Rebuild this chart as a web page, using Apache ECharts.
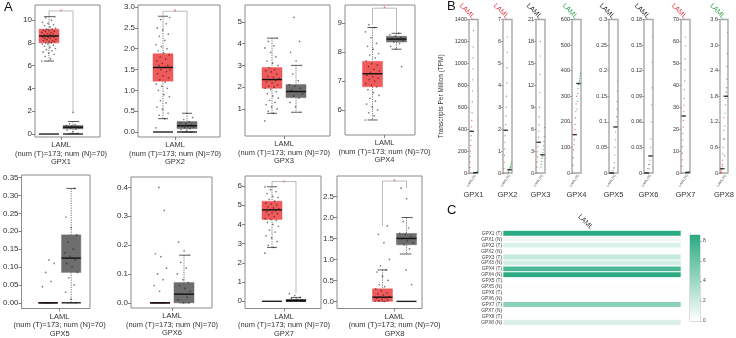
<!DOCTYPE html>
<html><head><meta charset="utf-8">
<script src="https://cdn.jsdelivr.net/npm/echarts@6/dist/echarts.min.js"></script>
<style>html,body{margin:0;padding:0;background:#fff}#c{width:736px;height:338px}</style>
</head><body><div id="c"></div>
<script>
// ---------------- DATA ----------------
const genes = ['GPX1','GPX2','GPX3','GPX4','GPX5','GPX6','GPX7','GPX8'];
const cancer = 'LAML';
const numText = '(num (T)=173; num (N)=70)';

// Panel A: box statistics, log2(TPM+1): [min, Q1, median, Q3, max]
const boxTumor = [
  [6.4,8.0,8.6,9.2,10.3],[0.32,1.22,1.55,1.88,2.78],[0.8,1.95,2.35,2.9,4.25],[5.65,6.8,7.25,7.68,8.85],
  [0,0,0,0,0],[0,0,0,0,0],[2.8,4.25,4.75,5.2,5.95],[0,0,0.1,0.3,0.75]];
const boxNormal = [
  [0.05,0.45,0.6,0.75,1.1],[0,0.08,0.15,0.25,0.45],[0.85,1.52,1.8,2.12,3.0],[8.1,8.35,8.45,8.55,8.65],
  [0,0.085,0.125,0.19,0.32],[0,0,0.03,0.07,0.165],[0,0.02,0.05,0.1,0.2],[1.13,1.35,1.5,1.62,2.0]];
// flat boxes at zero drawn under groups (1 = tumor, 2 = normal)
const zeroBoxes = [[1,2],[1,2],[],[],[1,2],[1],[1,2],[2]];
// Panel A: jittered points (sample)
const ptsTumor = [
  [6.4,6.6,6.8,7.0,7.1,7.2,7.3,7.4,7.5,7.6,7.7,7.8,7.9,7.9,8.0,8.0,8.1,8.1,8.2,8.2,8.3,8.3,8.4,8.4,8.5,8.5,8.5,8.6,8.6,8.6,8.7,8.7,8.8,8.8,8.9,8.9,9.0,9.0,9.1,9.1,9.2,9.2,9.3,9.4,9.5,9.6,9.7,9.8,10.0,10.2,10.3],
  [0.1,0.32,0.4,0.45,0.55,0.6,0.7,0.75,0.85,0.9,1.0,1.05,1.1,1.15,1.2,1.25,1.3,1.35,1.4,1.45,1.5,1.5,1.55,1.6,1.6,1.65,1.7,1.75,1.8,1.85,1.9,1.95,2.0,2.05,2.1,2.2,2.3,2.35,2.45,2.5,2.6,2.7,2.75],
  [0.45,0.8,0.9,1.0,1.1,1.2,1.3,1.4,1.5,1.6,1.7,1.8,1.9,1.95,2.0,2.05,2.1,2.2,2.25,2.3,2.35,2.4,2.45,2.5,2.6,2.7,2.75,2.8,2.9,3.0,3.1,3.2,3.4,3.6,3.8,3.9,4.1,4.25],
  [5.65,5.8,5.9,6.0,6.1,6.2,6.3,6.4,6.5,6.6,6.7,6.8,6.85,6.9,7.0,7.05,7.1,7.15,7.2,7.25,7.3,7.35,7.4,7.5,7.55,7.6,7.7,7.8,7.9,7.95,8.1,8.2,8.3,8.5,8.7,8.85,8.95],
  [0,0,0,0,0,0.045,0.06,0.085,0.11,0.12],
  [0,0,0,0,0.04,0.06,0.08,0.1,0.12,0.16,0.17,0.32,0.4],
  [2.5,2.8,2.9,3.1,3.3,3.4,3.6,3.7,3.9,4.0,4.1,4.2,4.25,4.3,4.4,4.5,4.55,4.6,4.65,4.7,4.75,4.8,4.85,4.9,5.0,5.05,5.1,5.2,5.3,5.4,5.45,5.6,5.7,5.8,5.95],
  [0,0,0.02,0.03,0.05,0.07,0.08,0.1,0.12,0.15,0.18,0.2,0.25,0.3,0.35,0.4,0.5,0.6,0.7,0.75,0.85,1.0,1.4,1.6,1.8]];
const ptsNormal = [
  [0.05,0.2,0.35,0.45,0.5,0.55,0.6,0.6,0.65,0.7,0.75,0.8,0.9,1.1,1.9],
  [0.0,0.03,0.06,0.08,0.1,0.12,0.14,0.15,0.17,0.2,0.22,0.25,0.3,0.35,0.45],
  [0.85,1.1,1.3,1.5,1.6,1.7,1.8,1.85,1.95,2.05,2.12,2.3,2.6,3.0,3.2,3.6,4.1,5.2],
  [7.5,8.1,8.2,8.3,8.35,8.4,8.45,8.45,8.5,8.55,8.6,8.65],
  [0,0.01,0.03,0.05,0.07,0.085,0.1,0.11,0.12,0.13,0.14,0.15,0.17,0.19,0.21,0.24,0.32],
  [0,0,0.01,0.02,0.03,0.04,0.05,0.06,0.07,0.08,0.1,0.12,0.14,0.165,0.18,0.21],
  [0,0.02,0.03,0.05,0.06,0.08,0.1,0.15,0.2,0.3,0.4],
  [0.4,0.75,1.13,1.25,1.35,1.4,1.45,1.5,1.55,1.6,1.62,1.75,1.9,2.0,2.45,2.7]];
// significance bracket height (null = not significant)
const sigTop = [10.8, 2.9, null, 9.52, null, null, 6.22, 2.87];
// Panel A tick values
const ticksA = [[0,2,4,6,8,10],[0,0.5,1,1.5,2,2.5,3],[1,2,3,4,5],[6,7,8,9],
  [0,0.05,0.1,0.15,0.2,0.25,0.3,0.35],[0,0.1,0.2,0.3,0.4],[0,1,2,3,4,5,6],[0,0.5,1,1.5,2,2.5]];
const decA = [0,1,0,0,2,1,0,1];

// Panel B: TPM dot plot (sorted values), medians, axis max/ticks
const dotTumor = [
  [0,50,100,150,200,250,300,340,380,420,480,550,650,750,850,950,1050,1150,1300],
  [0,0.2,0.5,0.8,1.1,1.4,1.7,1.95,2.2,2.6,3.0,3.5,4.1,4.8,5.5,6.2],
  [0,0.8,1.5,2.2,2.9,3.6,4.2,4.9,5.7,6.6,7.7,9.0,11,13.5,16,18],
  [0,30,60,90,110,130,150,170,190,215,240,270,300],
  [0,0,0,0,0,0.005,0.01],
  [0,0,0,0,0.005,0.01],
  [0,3,6,9,12,15,18,21,24,26,28,31,34,38,42,47,52,58,62],
  [0,0,0.02,0.05,0.1,0.15,0.2,0.3,0.45,0.6,0.8,1.0,1.3]];
const dotNormal = [
  [0,1,2,3,4,5,6,8,10],
  [0,0.05,0.1,0.15,0.2,0.25,0.3,0.4,0.5],
  [0.8,1.2,1.6,2.0,2.3,2.5,2.8,3.2,3.7,4.3,5.0,6.2],
  [250,280,310,330,345,350,360,370,380,390],
  [0,0.01,0.02,0.035,0.05,0.065,0.08,0.09,0.1,0.11,0.125,0.14,0.16,0.18],
  [0,0.005,0.01,0.015,0.02,0.03,0.04,0.06,0.08,0.1,0.13,0.16],
  [0,0,0.1,0.2,0.3,0.5],
  [0.4,0.8,1.1,1.4,1.6,1.75,1.8,1.9,2.0,2.2,2.5,2.8,3.3]];
const medTumorTPM = [380,1.95,4.2,150,0,0,26,0.1];
const medNormalTPM = [3,0.15,2.5,350,0.09,0.02,0.3,1.8];
const maxB = [1400,7,21,600,0.3,0.18,70,3.6];
const stepB = [200,1,3,100,0.05,0.03,10,0.6];
const sigDir = ['up','up','ns','down','ns','ns','up','down'];

// Panel C heatmap: median log2(TPM+1)
const heatRows = ['GPX1 (T)','GPX1 (N)','GPX2 (T)','GPX2 (N)','GPX3 (T)','GPX3 (N)','GPX4 (T)','GPX4 (N)',
  'GPX5 (T)','GPX5 (N)','GPX6 (T)','GPX6 (N)','GPX7 (T)','GPX7 (N)','GPX8 (T)','GPX8 (N)'];
const heatValues = [8.6,0.6,1.55,0.15,2.35,1.8,7.25,8.45,0,0.125,0,0.03,4.75,0.05,0.1,1.5];
const heatMax = 8.6;
const colorbarTicks = [0,2,4,6,8];

// ---------------- LAYOUT / STYLE ----------------
const FONT = 'Liberation Sans, Arial, Helvetica, sans-serif';
const RED = '#F05A5A', GRAY = '#6E6E6E';
const DOT_RED = '#E04848', DOT_GREEN = '#2E9E4E', DOT_GRAY = '#888';
const LAB_COL = {up:'#E5343C', down:'#2DA04A', ns:'#222'};
const SP = 24;           // px per group unit in panel A
const BOXW = 20 / SP;    // box width in group units
const layoutA = [
  {left:35, top:5, width:65, height:132, ymin:-0.26, ymax:11.32, off:14},
  {left:138, top:5, width:82, height:132, ymin:-0.12, ymax:3.05, off:25},
  {left:245, top:5, width:85, height:131, ymin:-0.24, ymax:5.77, off:27},
  {left:345, top:5, width:70, height:130, ymin:5.13, ymax:9.63, off:27.5},
  {left:19, top:175, width:71, height:134, ymin:-0.016, ymax:0.3575, off:27.5},
  {left:131, top:177, width:81, height:131, ymin:-0.018, ymax:0.436, off:29},
  {left:245, top:176, width:76, height:134, ymin:-0.375, ymax:6.51, off:27},
  {left:337, top:176, width:85, height:134, ymin:-0.17, ymax:2.99, off:45.5}];
const leftB = [469,503,536,572,609,644,681,720];

const grid=[], xAxis=[], yAxis=[], series=[];
const jit = i => ((i*0.618034) % 1 - 0.5) * 0.6;
const noZero = {show:false, onZero:false};

function renderBox(params, api){
  const x = api.value(0), kind = api.value(6);
  const w = api.size([BOXW,0])[0];
  const cx = api.coord([x, api.value(3)])[0];
  const y = k => api.coord([x, api.value(k)])[1];
  if (kind === 2) {
    return {type:'line', shape:{x1:cx-w/2,y1:y(3),x2:cx+w/2,y2:y(3)}, style:{stroke:'#222', lineWidth:1.4}};
  }
  const fill = kind === 0 ? RED : GRAY;
  const wl = {stroke:'#555', lineWidth:0.8, lineDash:[1.2,1.2]};
  const cap = {stroke:'#333', lineWidth:0.8};
  return {type:'group', children:[
    {type:'line', shape:{x1:cx,y1:y(5),x2:cx,y2:y(4)}, style:wl},
    {type:'line', shape:{x1:cx,y1:y(2),x2:cx,y2:y(1)}, style:wl},
    {type:'line', shape:{x1:cx-w/4,y1:y(5),x2:cx+w/4,y2:y(5)}, style:cap},
    {type:'line', shape:{x1:cx-w/4,y1:y(1),x2:cx+w/4,y2:y(1)}, style:cap},
    {type:'rect', shape:{x:cx-w/2,y:y(4),width:w,height:y(2)-y(4)}, style:{fill:fill, stroke:fill, lineWidth:0.5}},
    {type:'line', shape:{x1:cx-w/2,y1:y(3),x2:cx+w/2,y2:y(3)}, style:{stroke:'#111', lineWidth:1.4}}
  ]};
}

// ---------- Panel A ----------
genes.forEach((g, k) => {
  const L = layoutA[k];
  const gi = grid.length;
  const xmin = 1 - L.off/SP, xmax = xmin + L.width/SP;
  grid.push({left:L.left, top:L.top, width:L.width, height:L.height, show:true, borderColor:'#8a8a8a', borderWidth:1});
  xAxis.push({gridIndex:gi, type:'value', min:xmin, max:xmax, splitLine:{show:false}, axisLine:noZero,
    axisTick:{show:true, customValues:[1.5], length:3, lineStyle:{color:'#666', width:0.8}},
    axisLabel:{customValues:[1.5], formatter:()=>cancer+'\n'+numText+'\n'+g, fontSize:7.5, lineHeight:8.5,
      color:'#333', margin:4, fontFamily:FONT}});
  yAxis.push({gridIndex:gi, type:'value', min:L.ymin, max:L.ymax, splitLine:{show:false}, axisLine:noZero,
    axisTick:{show:true, customValues:ticksA[k], length:3, lineStyle:{color:'#666', width:0.8}},
    axisLabel:{customValues:ticksA[k], formatter:v=>v.toFixed(decA[k]), fontSize:8, color:'#333', margin:3, fontFamily:FONT}});
  const boxData = zeroBoxes[k].map(p => [p,0,0,0,0,0,2]);
  boxData.push([1].concat(boxTumor[k], [0]));
  boxData.push([2].concat(boxNormal[k], [1]));
  series.push({type:'custom', xAxisIndex:gi, yAxisIndex:gi, renderItem:renderBox, data:boxData, silent:true,
    encode:{x:0, y:[1,5]}, clip:false});
  const pts = ptsTumor[k].map((v,i)=>[1+jit(i), v]).concat(ptsNormal[k].map((v,i)=>[2+jit(i+3), v]));
  series.push({type:'scatter', xAxisIndex:gi, yAxisIndex:gi, data:pts, symbolSize:1.7, silent:true,
    itemStyle:{color:'rgba(25,25,25,0.7)'}});
  if (sigTop[k] !== null) {
    const tl = Math.max(...ptsTumor[k]), tr = Math.max(...ptsNormal[k]);
    series.push({type:'line', xAxisIndex:gi, yAxisIndex:gi, symbol:'none', silent:true,
      data:[[1,tl],[1,sigTop[k]],[2,sigTop[k]],[2,tr]], lineStyle:{color:'#aaa', width:0.8}});
    series.push({type:'scatter', xAxisIndex:gi, yAxisIndex:gi, data:[[1.5,sigTop[k]]], symbolSize:0, silent:true,
      label:{show:true, formatter:'*', color:'#E5343C', fontSize:7, position:'inside', offset:[0,1]}});
  }
});

// ---------- Panel B ----------
genes.forEach((g, k) => {
  const gi = grid.length;
  grid.push({left:leftB[k], top:19, width:9, height:154, show:true, borderColor:'#a8a8a8', borderWidth:1.4});
  const xi = xAxis.length;
  xAxis.push({gridIndex:gi, type:'value', min:0, max:1, splitLine:{show:false}, axisLine:noZero, axisTick:{show:false},
    axisLabel:{customValues:[0.3,0.7], formatter:v=> v<0.5 ? cancer+'(T)' : cancer+'(N)', rotate:55, fontSize:3.5, color:'#666', margin:2},
    name:g, nameLocation:'middle', nameGap:17, nameTextStyle:{fontSize:7.5, color:'#333', fontFamily:FONT}});
  xAxis.push({gridIndex:gi, type:'category', position:'top', data:[cancer], axisLine:noZero, axisTick:{show:false},
    axisLabel:{rotate:45, fontSize:7, color:LAB_COL[sigDir[k]], margin:2, fontFamily:FONT}});
  const ticks = [];
  for (let i=0; i*stepB[k] <= maxB[k]+1e-9; i++) ticks.push(+(i*stepB[k]).toFixed(4));
  yAxis.push({gridIndex:gi, type:'value', min:0, max:maxB[k], splitLine:{show:false}, axisLine:noZero,
    axisTick:{show:true, customValues:ticks, length:2, lineStyle:{color:'#777', width:0.6}},
    axisLabel:{customValues:ticks, formatter:v=> k===7 && v!==0 ? v.toFixed(1) : String(v), fontSize:5.5, color:'#333', margin:2, fontFamily:FONT},
    name: k===0 ? 'Transcripts Per Million (TPM)' : '', nameLocation:'middle', nameGap:24,
    nameTextStyle:{fontSize:6.5, color:'#333', fontFamily:FONT}});
  const cT = sigDir[k]==='ns' && k!==2 ? DOT_GRAY : DOT_RED;
  const cN = sigDir[k]==='ns' && k!==2 ? DOT_GRAY : DOT_GREEN;
  const nT = dotTumor[k].length, nN = dotNormal[k].length;
  series.push({type:'scatter', xAxisIndex:xi, yAxisIndex:gi, symbolSize:1.3, silent:true, itemStyle:{color:cT},
    data:dotTumor[k].map((v,i)=>[0.08+0.42*i/(nT-1), v])});
  series.push({type:'scatter', xAxisIndex:xi, yAxisIndex:gi, symbolSize:1.3, silent:true, itemStyle:{color:cN},
    data:dotNormal[k].map((v,i)=>[0.55+0.4*i/(nN-1), v])});
  series.push({type:'scatter', xAxisIndex:xi, yAxisIndex:gi, symbol:'rect', symbolSize:[4.5,1.4], silent:true,
    itemStyle:{color:'#111'}, data:[[0.3, medTumorTPM[k]],[0.72, medNormalTPM[k]]]});
});

// ---------- Panel C ----------
const hg = grid.length;
grid.push({left:503, top:230.5, width:178, height:95});
xAxis.push({gridIndex:hg, type:'category', position:'top', data:[cancer], axisLine:noZero, axisTick:{show:false},
  axisLabel:{rotate:45, fontSize:7, color:'#333', margin:2, fontFamily:FONT}});
yAxis.push({gridIndex:hg, type:'category', data:heatRows, inverse:true, axisLine:noZero,
  axisTick:{show:true, length:1.5, alignWithLabel:true, lineStyle:{color:'#555', width:0.5}},
  axisLabel:{fontSize:4.8, color:'#444', margin:1, fontFamily:FONT, interval:0}});
const heatIdx = series.length;
series.push({type:'heatmap', xAxisIndex:xAxis.length-1, yAxisIndex:hg, silent:true,
  data:heatValues.map((v,i)=>[0,i,v]), itemStyle:{borderColor:'#fff', borderWidth:1.1}});
// colorbar
const cg = grid.length;
grid.push({left:690, top:235, width:10, height:86, show:true, borderColor:'#aaa', borderWidth:0.8});
xAxis.push({gridIndex:cg, type:'category', data:[''], show:false});
yAxis.push({gridIndex:cg, type:'value', min:0, max:heatMax, position:'right', splitLine:{show:false}, axisLine:noZero,
  axisTick:{show:true, customValues:colorbarTicks, length:2, lineStyle:{color:'#777', width:0.5}},
  axisLabel:{customValues:colorbarTicks, fontSize:5, color:'#444', margin:3, fontFamily:FONT}});
series.push({type:'bar', xAxisIndex:xAxis.length-1, yAxisIndex:cg, data:[heatMax], barWidth:'100%', silent:true,
  itemStyle:{color:new echarts.graphic.LinearGradient(0,0,0,1,[{offset:0,color:'#2aaa82'},{offset:1,color:'#ffffff'}])}});

const chart = echarts.init(document.getElementById('c'));
chart.setOption({
  animation:false, backgroundColor:'#fff',
  textStyle:{fontFamily:FONT},
  grid, xAxis, yAxis, series,
  visualMap:{show:false, min:0, max:heatMax, seriesIndex:heatIdx, inRange:{color:['#ffffff','#2aaa82']}},
  graphic:[
    {type:'text', left:4, top:1, style:{text:'A', fontSize:13, fill:'#111', fontFamily:FONT}},
    {type:'text', left:447, top:0, style:{text:'B', fontSize:13, fill:'#111', fontFamily:FONT}},
    {type:'text', left:447, top:204, style:{text:'C', fontSize:13, fill:'#111', fontFamily:FONT}}
  ]
});
</script></body></html>
